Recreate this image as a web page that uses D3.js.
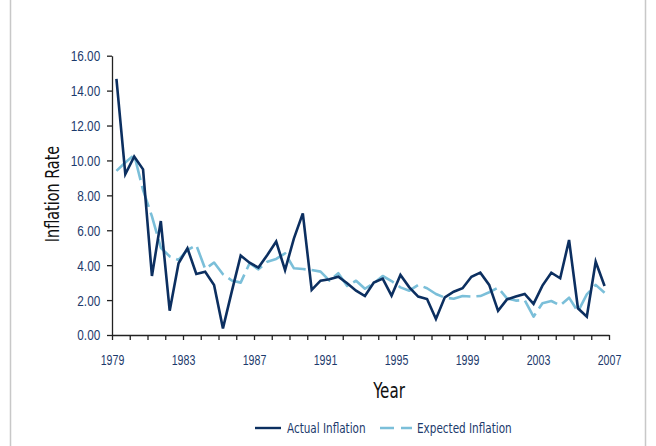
<!DOCTYPE html>
<html>
<head>
<meta charset="utf-8">
<script src="https://cdn.jsdelivr.net/npm/d3@7"></script>
<style>
  body { margin: 0; background: #fff; }
  svg { display: block; font-family: "DejaVu Sans Condensed", "Liberation Sans Narrow", sans-serif; }
  .axis path, .axis line { stroke: #222; stroke-width: 1.3; }
  .axis text { fill: #1c3a6c; }
</style>
</head>
<body>
<div id="chart"></div>
<script>
// half-year periods (mid points of each half)
var periods = [1979.25, 1979.75, 1980.25, 1980.75, 1981.25, 1981.75, 1982.25, 1982.75,
  1983.25, 1983.75, 1984.25, 1984.75, 1985.25, 1985.75, 1986.25, 1986.75,
  1987.25, 1987.75, 1988.25, 1988.75, 1989.25, 1989.75, 1990.25, 1990.75,
  1991.25, 1991.75, 1992.25, 1992.75, 1993.25, 1993.75, 1994.25, 1994.75,
  1995.25, 1995.75, 1996.25, 1996.75, 1997.25, 1997.75, 1998.25, 1998.75,
  1999.25, 1999.75, 2000.25, 2000.75, 2001.25, 2001.75, 2002.25, 2002.75,
  2003.25, 2003.75, 2004.25, 2004.75, 2005.25, 2005.75, 2006.25, 2006.75];

var actual = [14.67, 9.21, 10.22, 9.49, 3.38, 6.53, 1.39, 4.11,
  4.97, 3.50, 3.62, 2.87, 0.38, 2.50, 4.55, 4.14,
  3.86, 4.58, 5.35, 3.72, 5.54, 6.97, 2.58, 3.11,
  3.19, 3.34, 2.96, 2.54, 2.23, 3.00, 3.23, 2.25,
  3.44, 2.73, 2.20, 2.06, 0.92, 2.16, 2.48, 2.68,
  3.34, 3.57, 2.87, 1.38, 2.04, 2.20, 2.35, 1.78,
  2.83, 3.57, 3.25, 5.44, 1.53, 1.05, 4.20, 2.81];

var expected = [9.40, 9.88, 10.32, 8.30, 6.80, 5.00, 4.50, 4.30,
  4.87, 5.15, 3.78, 4.15, 3.48, 3.12, 3.00, 4.11,
  3.76, 4.20, 4.36, 4.68, 3.82, 3.78, 3.72, 3.63,
  3.11, 3.54, 2.81, 3.11, 2.65, 2.96, 3.38, 3.09,
  2.73, 2.54, 2.87, 2.68, 2.35, 2.14, 2.08, 2.23,
  2.20, 2.23, 2.45, 2.71, 2.10, 1.97, 2.00, 1.05,
  1.82, 1.95, 1.70, 2.14, 1.34, 2.33, 2.87, 2.42];

var years = d3.range(1979, 2008);
var yearLabels = [1979, 1983, 1987, 1991, 1995, 1999, 2003, 2007];
var yTicks = [0, 2, 4, 6, 8, 10, 12, 14, 16];
var seriesNames = ["Actual Inflation", "Expected Inflation"];

var W = 656, H = 446;
var svg = d3.select("#chart").append("svg").attr("width", W).attr("height", H);

svg.append("rect").attr("width", W).attr("height", H).attr("fill", "#fff");

// frame lines at the sides
svg.append("line").attr("x1", 10.5).attr("x2", 10.5).attr("y1", 0).attr("y2", H)
  .attr("stroke", "#c8c8c8").attr("stroke-width", 1.5);
svg.append("line").attr("x1", 645.5).attr("x2", 645.5).attr("y1", 0).attr("y2", H)
  .attr("stroke", "#c8c8c8").attr("stroke-width", 1.5);

var x = d3.scaleLinear().domain([1979, 2007]).range([112, 609]);
var y = d3.scaleLinear().domain([0, 16]).range([335, 55.7]);

var colActual = "#0c2f60", colExpected = "#7bbfd9";

// narrow text: the original uses a condensed face, so squeeze horizontally
function label(g, px, py, size, sx, anchor, str, fill, rot) {
  var t = g.append("g").attr("transform", "translate(" + px + "," + py + ")" + (rot ? " rotate(" + rot + ")" : ""))
    .append("text")
    .attr("transform", "scale(" + sx + ",1)")
    .attr("text-anchor", anchor)
    .style("font-size", size + "px")
    .attr("fill", fill)
    .text(str);
  return t;
}

// y axis
var ya = svg.append("g").attr("class", "axis")
  .attr("transform", "translate(112,0)")
  .call(d3.axisLeft(y).tickValues(yTicks).tickFormat(d3.format(".2f")).tickSize(5).tickSizeOuter(0).tickPadding(10.5));
ya.selectAll("text").style("font-size", "15.5px").attr("transform", "scale(0.76,1)");

// x axis
var xa = svg.append("g").attr("class", "axis")
  .attr("transform", "translate(0,335)")
  .call(d3.axisBottom(x).tickValues(years)
    .tickFormat(function(d) { return yearLabels.indexOf(d) >= 0 ? d : ""; })
    .tickSize(5).tickSizeOuter(0).tickPadding(15));
xa.selectAll("text").style("font-size", "14px").attr("transform", "scale(0.76,1)");

// lines
var line = function(vals) {
  return d3.line()
    .x(function(d, i) { return x(periods[i]); })
    .y(function(d) { return y(d); })(vals);
};

svg.append("path").attr("d", line(expected))
  .attr("fill", "none").attr("stroke", colExpected).attr("stroke-width", 2.6)
  .attr("stroke-dasharray", "22,6").attr("stroke-linejoin", "round");

svg.append("path").attr("d", line(actual))
  .attr("fill", "none").attr("stroke", colActual).attr("stroke-width", 2.6)
  .attr("stroke-linejoin", "miter");

// axis titles
label(svg, 59, 194, 20, 0.8, "middle", "Inflation Rate", "#111", -90);
label(svg, 389, 398, 21, 0.8, "middle", "Year", "#111");

// legend
var leg = svg.append("g").attr("transform", "translate(0,428)");
leg.append("line").attr("x1", 255).attr("x2", 281).attr("y1", 0).attr("y2", 0)
  .attr("stroke", colActual).attr("stroke-width", 2.4);
label(leg, 287, 5, 14.5, 0.8, "start", seriesNames[0], "#1c3a6c");
leg.append("line").attr("x1", 380).attr("x2", 412).attr("y1", 0).attr("y2", 0)
  .attr("stroke", colExpected).attr("stroke-width", 2.4).attr("stroke-dasharray", "14,7");
label(leg, 417, 5, 14.5, 0.8, "start", seriesNames[1], "#1c3a6c");
</script>
</body>
</html>
